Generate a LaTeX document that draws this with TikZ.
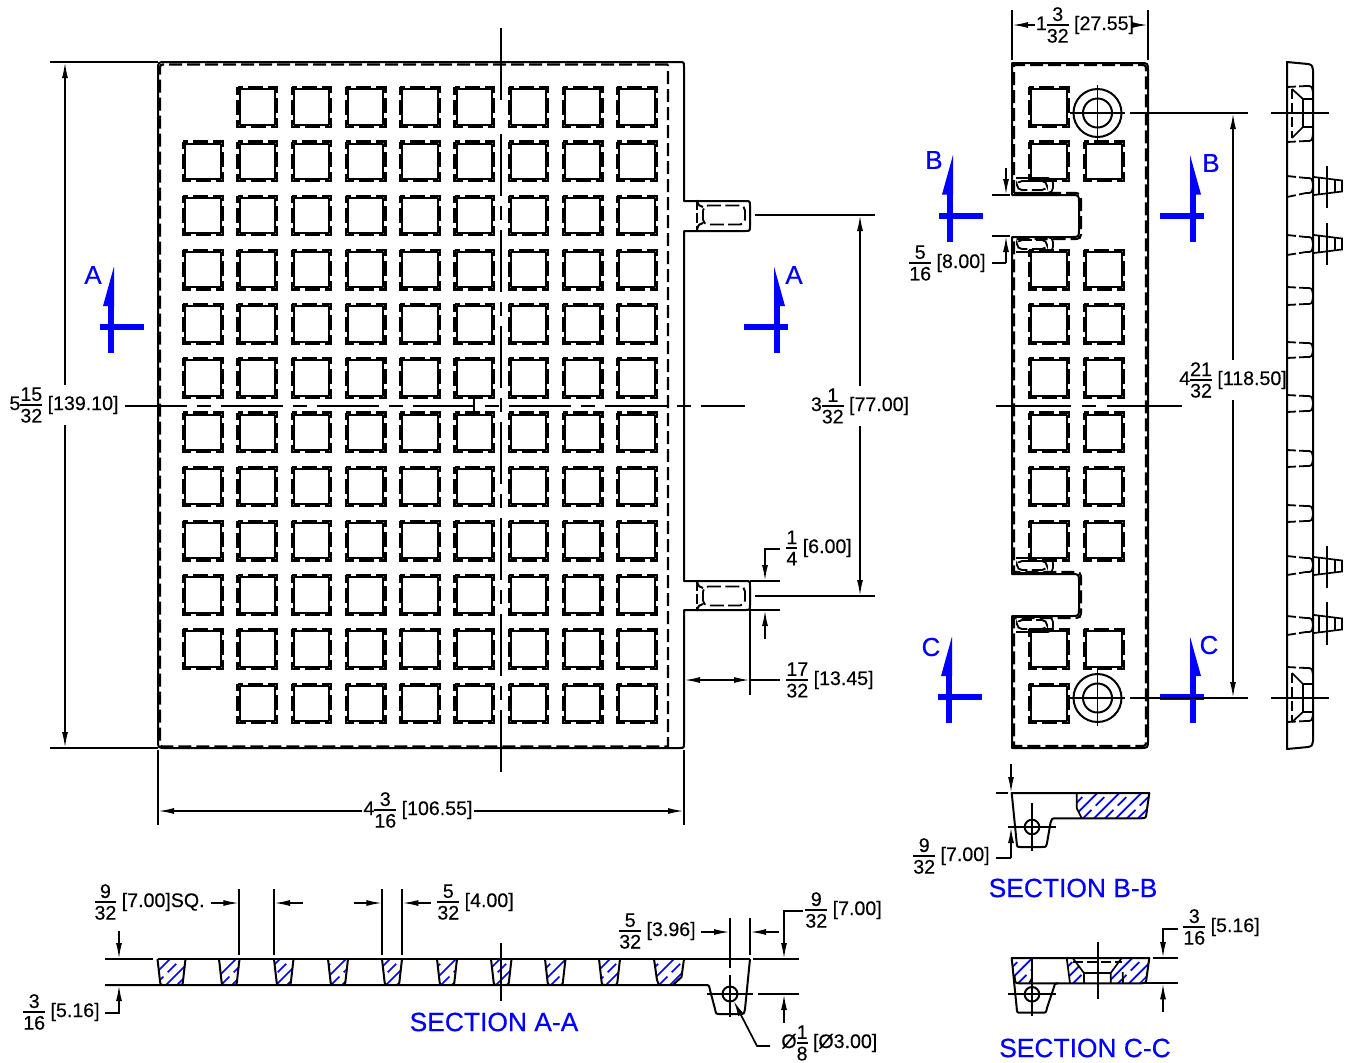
\documentclass[tikz,border=0pt]{standalone}
\usepackage{fontspec}
\setmainfont[FakeBold=0.35]{Liberation Sans}
\usetikzlibrary{arrows.meta}
\definecolor{cutblue}{RGB}{0,0,255}
\newcommand{\frc}[2]{\ensuremath{\vcenter{\offinterlineskip\halign{\hfil##\hfil\cr #1\cr\noalign{\vskip1.6pt\hrule height0.7pt\vskip1.6pt}#2\cr}}}}
\tikzset{
  outl/.style={line width=1pt, line join=round},
  hid/.style={line width=1.1pt, dash pattern=on 6.5pt off 2.5pt},
  hidsq/.style={line width=1.2pt, dash pattern=on 7.5pt off 2.5pt, dash phase=3.75pt},
  hidslot/.style={line width=0.95pt, dash pattern=on 7pt off 2.2pt},
  hidedge/.style={line width=0.9pt, dash pattern=on 4.5pt off 1.6pt on 40pt off 0pt},
  cen/.style={line width=0.85pt, dash pattern=on 31pt off 5pt on 7pt off 5pt},
  dim/.style={line width=0.85pt},
  dimarr/.style={dim, -{Latex[length=8pt,width=3pt]}},
  dimboth/.style={dim, {Latex[length=8pt,width=3pt]}-{Latex[length=8pt,width=3pt]}},
  lbl/.style={font=\fontsize{9.8}{10}\selectfont, inner sep=1pt},
  cutmark/.style={cutblue, line width=3pt},
  cutletter/.style={cutblue, font=\fontsize{13}{14}\selectfont, inner sep=0pt},
  secname/.style={cutblue, font=\fontsize{13.2}{16}\selectfont, inner sep=0pt},
  hatchsolid/.style={cutblue, line width=0.85pt},
  hatchdash/.style={cutblue, line width=0.85pt, dash pattern=on 6pt off 3pt},
}
% blue 45 degree hatch, alternately solid and dashed; #1 = clip path, #2,#3 = x range, #4,#5 = y range
\newcommand{\hatchfill}[5]{
  \begin{scope}
    \clip #1;
    \pgfmathsetmacro{\hatchh}{#5-#4}
    \foreach \hx [count=\hi] in {#2,\the\numexpr#2+11\relax,...,#3} {
      \pgfmathsetmacro{\hstyle}{mod(\hi,2)==0 ? "hatchdash" : "hatchsolid"}
      \draw[\hstyle] (\hx,#5) -- ++(\hatchh,-\hatchh);
    }
  \end{scope}
}
% one pocket of the grid
\newcommand{\pocket}[2]{
  \draw[outl] (#1-17.7,#2-17.7) rectangle (#1+17.7,#2+17.7);
  \draw[hidsq] (#1-19.7,#2-19.7) rectangle (#1+19.7,#2+19.7);
}
\begin{document}
\begin{tikzpicture}[x=0.5pt,y=-0.5pt]
  \useasboundingbox (0,0) rectangle (1350,1062);

  % front view
  \draw[outl] (166,62) -- (679,62) .. controls (684,62) .. (684,67) -- (684,201) -- (745,201) .. controls (750,201) .. (750,206)
    -- (750,226) .. controls (750,231) .. (745,231) -- (684,231) -- (684,581) -- (745,581) .. controls (750,581) .. (750,586)
    -- (750,605) .. controls (750,610) .. (745,610) -- (684,610) -- (684,743) .. controls (684,748) .. (679,748)
    -- (166,748) .. controls (158,748) .. (158,740) -- (158,70) .. controls (158,62) .. cycle;
  \draw[hid] (668,64.5) -- (166,64.5) .. controls (160,64.5) .. (160,70) -- (160,741) .. controls (160,746.5) .. (166,746.5) -- (668,746.5) -- cycle;
  \foreach \cy in {215,596} {
    \draw[outl] (697,\cy-15) .. controls (698,\cy-9) and (700,\cy-9) .. (703,\cy-8);
    \draw[outl] (697,\cy+15) .. controls (698,\cy+9) and (700,\cy+9) .. (703,\cy+8);
    \draw[outl, dash pattern=on 5pt off 1.5pt] (697,\cy-15) -- (697,\cy+15);
    \draw[hidslot, rounded corners=2.5pt] (703,\cy-9.5) rectangle (745,\cy+9.5);
  }
  \foreach \sx in {257.25,311.5,365.75,420,474.25,528.5,582.75,637} {
    \foreach \sy in {107,161.2,215.4,269.6,323.8,378,432.2,486.4,540.6,594.8,649,703.5} {
      \pocket{\sx}{\sy}
    }
  }
  \foreach \sy in {161.2,215.4,269.6,323.8,378,432.2,486.4,540.6,594.8,649} {
    \pocket{203}{\sy}
  }
  \draw[cen] (125,405.7) -- (745,405.7);
  \draw[dim] (501,28) -- (501,100);
  \draw[cen] (501,134) -- (501,780);
  \draw[outl] (474,396) -- (474,416);

  % front view dimensions
  \draw[dim] (50,62) -- (158,62) (50,748) -- (158,748);
  \draw[dimboth] (65,62) -- (65,748);
  \node[lbl, fill=white] (lenall) at (64,405) {5\frc{15}{32} [139.10]};
  \draw[dim] (158,750) -- (158,825) (684,750) -- (684,825);
  \draw[dimboth] (158,811) -- (684,811);
  \node[lbl, fill=white] (widall) at (418,810) {4\frc{3}{16} [106.55]};
  \draw[dim] (755,215) -- (875,215) (755,596) -- (875,596);
  \draw[dimboth] (860,215) -- (860,596);
  \node[lbl, fill=white] (tabgap) at (860,406) {3\frc{1}{32} [77.00]};
  \draw[dim] (750,581) -- (780,581) (750,610) -- (780,610);
  \draw[dimarr] (780,549) -- (765,549) -- (765,581);
  \draw[dimarr] (765,639) -- (765,610);
  \node[lbl, anchor=west] (tabhigh) at (784,548) {\frc{1}{4} [6.00]};
  \draw[dim] (750,610) -- (750,695);
  \draw[dimboth] (684,680) -- (750,680);
  \draw[dim] (750,680) -- (780,680);
  \node[lbl, anchor=west] (tablong) at (784,680) {\frc{17}{32} [13.45]};

  % section marks
  \foreach \mx/\my/\md/\mt/\lx/\ly in {111/327/1/A/93/275, 777/327/-1/A/794/275, 950/215.5/1/B/934/160, 1193/215.5/-1/B/1211/163, 949/697/1/C/931/647, 1193/697/-1/C/1209/645} {
    \draw[cutmark] (\mx,\my+26) -- (\mx,\my-25);
    \draw[cutmark] (\mx-11*\md,\my) -- (\mx+33*\md,\my);
    \fill[cutblue] (\mx+3*\md,\my-60.5) -- (\mx-8*\md,\my-21) -- (\mx+3*\md,\my-21) -- cycle;
    \node[cutletter] at (\lx,\ly) {\mt};
  }

  % side plan view
  \draw[outl] (1012,63) -- (1140,63) .. controls (1148,63) .. (1148,71) -- (1148,740) .. controls (1148,748) .. (1140,748) -- (1012,748) -- (1012,616)
    -- (1071,616) .. controls (1079,616) .. (1079,608) -- (1079,582) .. controls (1079,574) .. (1071,574) -- (1012,574) -- (1012,237)
    -- (1071,237) .. controls (1079,237) .. (1079,229) -- (1079,203) .. controls (1079,195) .. (1071,195) -- (1012,195) -- cycle;
  \draw[hid] (1014,193) -- (1014,65) -- (1140,65) .. controls (1146,65) .. (1146,71) -- (1146,740) .. controls (1146,746) .. (1140,746) -- (1014,746) -- (1014,618)
    -- (1071,618) .. controls (1081,618) .. (1081,608) -- (1081,582) .. controls (1081,572) .. (1071,572) -- (1014,572) -- (1014,239)
    -- (1071,239) .. controls (1081,239) .. (1081,229) -- (1081,203) .. controls (1081,193) .. (1071,193) -- cycle;
  \foreach \sx/\sy in {1049/107,1049/161.2,1104/161.2,1049/269.6,1104/269.6,1049/323.8,1104/323.8,1049/378,1104/378,1049/432.2,1104/432.2,1049/486.4,1104/486.4,1049/540.6,1104/540.6,1049/649,1104/649,1049/703.5} {
    \pocket{\sx}{\sy}
  }
  \foreach \cy in {113,698} {
    \draw[outl] (1097.5,\cy) circle[radius=24];
    \draw[outl] (1097.5,\cy) circle[radius=14.5];
    \draw[dim] (1097.5,\cy-28) -- (1097.5,\cy+28) (1070,\cy) -- (1125,\cy) (1130,\cy) -- (1248,\cy);
  }
  \foreach \ty/\by in {178/193,237/252,558/573,617/632} {
    \draw[dim, rounded corners=2.5pt] (1016,\ty) -- (1053,\ty) -- (1053,\by) -- (1016,\by);
    \draw[hidslot, rounded corners=2.5pt] (1017,\ty+3) rectangle (1047,\by-3);
  }
  \draw[line width=0.85pt] (996,405.7) -- (1071,405.7) (1082,405.7) -- (1096,405.7) (1107,405.7) -- (1182,405.7);

  % side plan dimensions
  \draw[dim] (1012,10) -- (1012,60) (1148,10) -- (1148,60);
  \draw[dimarr] (1035,25) -- (1012,25);
  \draw[dimarr] (1133,25) -- (1148,25);
  \node[lbl] (sidewide) at (1085,25) {1\frc{3}{32} [27.55]};
  \draw[dim] (992,195) -- (1010,195) (992,236) -- (1010,236);
  \draw[dimarr] (1006,168) -- (1006,195);
  \draw[dim] (992,263) -- (1006,263);
  \draw[dimarr] (1006,263) -- (1006,236);
  \node[lbl, anchor=east] (notch) at (988,263) {\frc{5}{16} [8.00]};
  \draw[dimboth] (1233,113) -- (1233,698);
  \node[lbl, fill=white] (holes) at (1233,380) {4\frc{21}{32} [118.50]};

  % edge view
  \draw[outl] (1287,62) -- (1287,749) -- (1308,747) .. controls (1312,746) .. (1313,741) -- (1313,70) .. controls (1312,65) .. (1308,64) -- cycle;
  \foreach \ta/\tb/\ba/\bb in {87/86/142/141, 176/178/197/193, 235/237/255/252, 287/288/305/304, 342/343/358/357, 395/396/412/411, 450/451/467/466, 505/506/522/521, 556/558/575/572, 616/618/635/632, 667/668/722/721} {
    \draw[hidedge] (1287,\ta) -- (1306,\tb) .. controls (1312,\tb) .. (1313,\tb+7);
    \draw[hidedge] (1287,\ba) -- (1306,\bb) .. controls (1312,\bb) .. (1313,\bb-7);
  }
  \foreach \py/\pa/\pb in {186/166/208, 244/223/265, 566/546/588, 624/602/645} {
    \draw[dim] (1314,\py-9) -- (1342,\py-5.5) -- (1342,\py+5.5) -- (1314,\py+9);
    \draw[dim] (1319,\py-8.5) -- (1319,\py+8.5) (1335,\py-6.5) -- (1335,\py+6.5);
    \draw[dim] (1326.7,\pa) -- (1326.7,\pb);
  }
  \foreach \cy/\tp/\bt in {113/89/138, 698/673/722} {
    \draw[dim] (1271,\cy) -- (1329,\cy);
    \draw[dim] (1292,\tp) -- (1303,\cy-14) -- (1303,\cy+14) -- (1292,\bt);
    \draw[dim] (1303,\cy-14) -- (1313,\cy-14) (1303,\cy+14) -- (1313,\cy+14);
    \draw[dim, dash pattern=on 5pt off 2pt] (1292,\tp) -- (1292,\bt);
  }

  % section A-A
  \foreach \xa/\xb in {157.5/185.5, 219/239.5, 274/293.5, 328/348, 382/402, 437/457, 491/511.5, 545/565.5, 599/620} {
    \hatchfill{(\xa,959) -- (\xa+2.5,981) .. controls (\xa+3,985) .. (\xa+6,985) -- (\xb-6,985) .. controls (\xb-3,985) .. (\xb-2.5,981) -- (\xb,959) -- cycle}{100}{700}{959}{985}
    \draw[outl] (\xa,959) -- (\xa+2.5,981) .. controls (\xa+3,985) .. (\xa+6,985) (\xb-6,985) .. controls (\xb-3,985) .. (\xb-2.5,981) -- (\xb,959);
  }
  \hatchfill{(654,959) -- (657,980) -- (659,985) -- (673,985) -- (681.5,977) -- (684,959) -- cycle}{560}{700}{959}{985}
  \draw[outl] (654,959) -- (657,980) -- (659,985) (673,985) -- (681.5,977) -- (684,959);
  \draw[dim] (105,959) -- (153,959);
  \draw[outl] (157.5,959) -- (750,959);
  \draw[outl] (105,985) -- (705,985) .. controls (709,985) .. (710,990) -- (715,1009) .. controls (716,1014) .. (720,1014) -- (740,1014) .. controls (744,1014) .. (745,1009) -- (750,959);
  \draw[outl] (730,994) circle[radius=7.5];
  \draw[dim] (730,918) -- (730,968) (730,975) -- (730,1017);
  \draw[dim] (750,918) -- (750,955);
  \draw[dim] (707,994) -- (753,994) (758,994) -- (799,994) (753,959) -- (799,959);
  \draw[dim] (501,943) -- (501,1001);
  \draw[dim] (239.3,889) -- (239.3,955) (274,889) -- (274,955) (382.3,889) -- (382.3,955) (402.3,889) -- (402.3,955);
  \draw[dimarr] (211,903) -- (239.3,903);
  \draw[dimarr] (302.5,903) -- (274,903);
  \draw[dimarr] (354,903) -- (382.3,903);
  \draw[dimarr] (431,903) -- (402.3,903);
  \node[lbl, anchor=east] (squaresize) at (207,902) {\frc{9}{32} [7.00]SQ.};
  \node[lbl, anchor=west] (ribwidth) at (435,902) {\frc{5}{32} [4.00]};
  \draw[dimarr] (119,931) -- (119,959);
  \draw[dimarr] (105,1013) -- (119,1013) -- (119,985);
  \node[lbl, anchor=east] (thick) at (102,1012) {\frc{3}{16} [5.16]};
  \draw[dimarr] (701,932) -- (730,932);
  \draw[dimarr] (779,932) -- (750,932);
  \node[lbl, anchor=east] (rimwidth) at (698,931) {\frc{5}{32} [3.96]};
  \draw[dimarr] (803,911) -- (784,911) -- (784,959);
  \draw[dimarr] (784,1023) -- (784,994);
  \node[lbl, anchor=west] (rimdepth) at (803,910) {\frc{9}{32} [7.00]};
  \draw[dimarr] (770,1046) -- (757,1046) -- (733.5,1000.5);
  \node[lbl, anchor=west] (holedia) at (779,1043) {Ø\frc{1}{8} [Ø3.00]};
  \node[secname] (secaa) at (494,1022) {SECTION A-A};

  % section B-B
  \hatchfill{(1076.7,793) -- (1076.7,808) -- (1081.7,818.3) -- (1141,818.3) -- (1146,813) -- (1149,793) -- cycle}{1050}{1150}{793}{818.3}
  \draw[outl] (1011.7,793) -- (1149.3,793) -- (1146.5,813) .. controls (1146,818) .. (1141,818.3) -- (1056,818.3) .. controls (1052,818.3) .. (1050.5,823) -- (1047,843) .. controls (1046,847) .. (1042,847) -- (1021,847) .. controls (1017,847) .. (1016.7,843) -- cycle;
  \draw[dim] (1076.7,793) -- (1076.7,808) -- (1081.7,818.3);
  \draw[dim] (996,793) -- (1008,793);
  \draw[outl] (1032,827) circle[radius=7.3];
  \draw[dim] (1032,803) -- (1032,851) (1008,827) -- (1056,827);
  \draw[dimarr] (1011,764) -- (1011,793);
  \draw[dim] (996,858) -- (1011,858);
  \draw[dimarr] (1011,858) -- (1011,827);
  \node[lbl, anchor=east] (stand) at (992,856) {\frc{9}{32} [7.00]};
  \node[secname] (secbb) at (1073,888) {SECTION B-B};

  % section C-C
  \hatchfill{(1011.7,958) -- (1032,958) -- (1032,973) -- (1028,983) -- (1017,983) -- (1014.5,975) -- cycle}{985}{1040}{958}{983.3}
  \hatchfill{(1066.7,958) -- (1072.7,958) -- (1084,973) -- (1084,983) -- (1070,983) -- cycle}{1040}{1090}{958}{983.3}
  \hatchfill{(1121.7,958) -- (1110.7,973) -- (1110.7,983) -- (1141,983) -- (1146,978) -- (1149.3,958) -- cycle}{1085}{1150}{958}{983.3}
  \draw[outl] (1011.7,958) -- (1149.3,958) -- (1146.5,978) .. controls (1146,983) .. (1141,983.3) -- (1058,983.3) .. controls (1055,983.3) .. (1054,987) -- (1047,1008) .. controls (1046,1012.7) .. (1042,1012.7) -- (1021,1012.7) .. controls (1017,1012.7) .. (1016.7,1008) -- cycle;
  \draw[outl] (1014.5,975) .. controls (1015,983) .. (1019,983.3) -- (1058,983.3);
  \draw[dim] (1032,958) -- (1032,973) .. controls (1032,979) .. (1029,983);
  \draw[dim] (1066.7,958) -- (1070,983) (1072.7,958) -- (1084,973) -- (1084,983) (1121.7,958) -- (1110.7,973) -- (1110.7,983) (1084,973) -- (1110.7,973);
  \draw[dim, dash pattern=on 5pt off 2pt] (1073,962) -- (1121.7,962);
  \draw[dim] (1122.7,972) .. controls (1122,978) .. (1123,983);
  \draw[outl] (1032,994.3) circle[radius=7.3];
  \draw[dim] (1032,975) -- (1032,1016) (1008,994.3) -- (1056,994.3);
  \draw[dim] (1097.7,941.7) -- (1097.7,999);
  \draw[dim] (1153,958) -- (1178,958) (1145,983.3) -- (1178,983.3);
  \draw[dimarr] (1178,929) -- (1163,929) -- (1163,958);
  \draw[dimarr] (1163,1012) -- (1163,983.3);
  \node[lbl, anchor=west] (secthick) at (1181,927) {\frc{3}{16} [5.16]};
  \node[secname] (seccc) at (1085,1048) {SECTION C-C};
\end{tikzpicture}
\end{document}
